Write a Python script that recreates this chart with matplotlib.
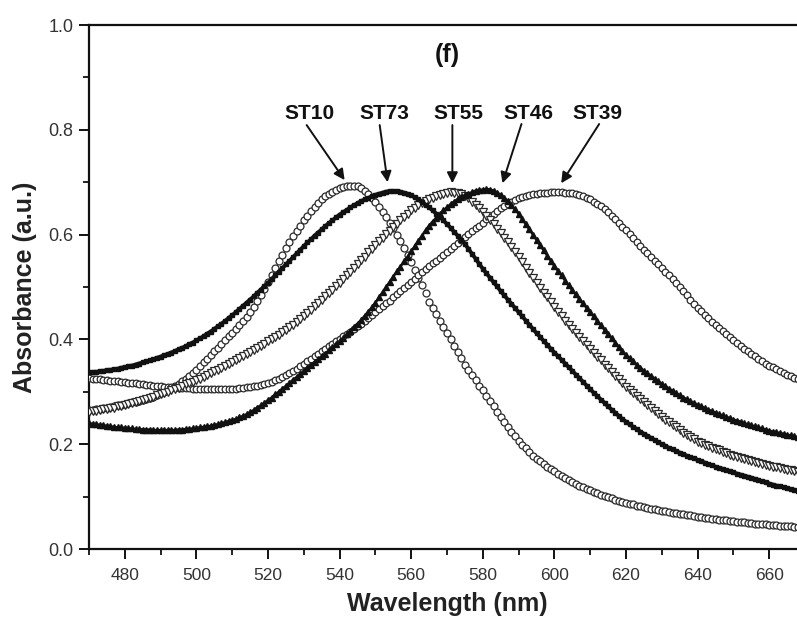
import matplotlib
matplotlib.use("Agg")
import matplotlib.pyplot as plt
from matplotlib.ticker import MultipleLocator

plt.rcParams['font.family'] = ['Liberation Sans', 'DejaVu Sans']

# wavelength grid (nm), one sample per nm
wavelength = list(range(470, 671))

st10 = [
    .265, .266, .267, .268, .269, .270, .271, .272, .274, .275,
    .277, .278, .280, .281, .283, .285, .287, .289, .291, .294,
    .297, .300, .303, .307, .311, .315, .320, .325, .330, .336,
    .342, .349, .356, .363, .370, .377, .384, .391, .398, .406,
    .413, .420, .427, .435, .443, .452, .462, .473, .485, .497,
    .510, .523, .536, .549, .562, .575, .586, .597, .607, .617,
    .627, .636, .645, .653, .660, .667, .673, .678, .682, .685,
    .688, .690, .692, .693, .693, .692, .689, .684, .678, .670,
    .662, .653, .643, .633, .623, .612, .600, .588, .575, .562,
    .548, .533, .518, .503, .488, .472, .460, .448, .436, .424,
    .412, .400, .388, .376, .364, .352, .342, .332, .322, .312,
    .303, .292, .282, .272, .262, .252, .243, .233, .224, .215,
    .206, .199, .192, .185, .178, .172, .167, .162, .157, .152,
    .148, .144, .140, .136, .132, .128, .125, .121, .118, .115,
    .112, .109, .106, .104, .101, .099, .097, .094, .092, .090,
    .088, .086, .085, .083, .082, .080, .079, .077, .076, .074,
    .073, .072, .071, .069, .068, .067, .066, .065, .064, .063,
    .062, .061, .060, .059, .058, .057, .056, .055, .055, .054,
    .053, .052, .051, .051, .050, .049, .048, .048, .047, .047,
    .046, .045, .045, .044, .044, .043, .043, .042, .042, .041,
    .041]

st73 = [
    .337, .338, .338, .339, .340, .341, .342, .343, .344, .346,
    .347, .349, .350, .352, .354, .356, .358, .360, .362, .365,
    .367, .370, .372, .375, .378, .381, .384, .387, .391, .394,
    .398, .402, .406, .411, .415, .420, .425, .430, .435, .441,
    .446, .452, .458, .464, .470, .476, .482, .489, .495, .502,
    .508, .515, .522, .529, .536, .543, .550, .557, .564, .571,
    .578, .585, .591, .598, .604, .610, .616, .622, .627, .633,
    .638, .643, .647, .652, .656, .660, .664, .667, .670, .673,
    .676, .678, .680, .682, .683, .683, .683, .682, .680, .678,
    .675, .671, .667, .662, .657, .652, .646, .640, .634, .627,
    .620, .613, .605, .598, .590, .582, .573, .563, .554, .544,
    .535, .526, .518, .509, .501, .492, .484, .476, .468, .460,
    .452, .444, .436, .428, .420, .412, .405, .397, .390, .382,
    .375, .368, .361, .354, .347, .340, .333, .326, .319, .312,
    .305, .298, .292, .285, .279, .272, .266, .260, .254, .248,
    .243, .238, .233, .229, .224, .220, .216, .212, .208, .204,
    .200, .197, .193, .190, .187, .184, .181, .178, .175, .173,
    .170, .167, .165, .162, .160, .157, .155, .153, .150, .148,
    .146, .144, .142, .140, .138, .136, .134, .132, .129, .127,
    .125, .123, .121, .120, .118, .116, .114, .113, .111, .110,
    .108]

st55 = [
    .262, .263, .264, .265, .267, .268, .269, .270, .272, .273,
    .275, .277, .278, .280, .282, .284, .286, .288, .290, .293,
    .295, .298, .300, .303, .305, .308, .311, .314, .316, .319,
    .322, .325, .329, .332, .336, .339, .342, .346, .349, .353,
    .356, .360, .364, .368, .372, .376, .380, .384, .388, .392,
    .396, .400, .405, .409, .414, .418, .423, .428, .434, .439,
    .445, .451, .457, .463, .470, .476, .482, .489, .495, .502,
    .508, .515, .522, .529, .537, .544, .551, .558, .566, .573,
    .580, .587, .594, .601, .607, .614, .621, .627, .634, .640,
    .646, .651, .656, .660, .664, .667, .670, .673, .676, .678,
    .680, .681, .680, .679, .677, .674, .669, .663, .657, .650,
    .643, .636, .628, .620, .611, .603, .594, .585, .576, .566,
    .557, .547, .537, .527, .518, .508, .499, .489, .480, .471,
    .462, .453, .445, .436, .428, .420, .412, .405, .397, .390,
    .382, .375, .367, .360, .352, .345, .338, .331, .324, .317,
    .310, .304, .298, .292, .286, .280, .274, .269, .263, .258,
    .252, .247, .242, .237, .232, .227, .222, .218, .213, .209,
    .205, .202, .199, .196, .193, .190, .188, .185, .183, .180,
    .178, .176, .174, .172, .170, .168, .166, .164, .162, .161,
    .159, .157, .156, .154, .153, .151, .150, .149, .147, .146,
    .145]

st46 = [
    .240, .239, .238, .237, .236, .235, .234, .233, .232, .232,
    .231, .230, .230, .229, .229, .228, .228, .228, .227, .227,
    .227, .227, .227, .227, .227, .228, .228, .229, .229, .230,
    .231, .232, .233, .234, .235, .237, .238, .240, .242, .244,
    .246, .248, .251, .254, .257, .261, .265, .270, .274, .279,
    .284, .289, .295, .300, .306, .311, .317, .323, .328, .334,
    .340, .346, .351, .357, .362, .368, .373, .379, .385, .391,
    .397, .403, .410, .416, .423, .430, .437, .445, .453, .461,
    .470, .480, .490, .500, .510, .520, .530, .539, .549, .558,
    .568, .578, .588, .598, .608, .617, .625, .632, .639, .646,
    .652, .658, .663, .668, .672, .675, .678, .681, .684, .685,
    .686, .687, .686, .684, .680, .676, .670, .664, .656, .648,
    .640, .630, .620, .610, .600, .590, .580, .570, .560, .550,
    .540, .531, .522, .512, .503, .494, .486, .477, .469, .460,
    .452, .444, .435, .427, .418, .410, .402, .394, .386, .378,
    .370, .364, .358, .352, .346, .340, .335, .330, .325, .320,
    .315, .311, .306, .302, .297, .293, .289, .286, .282, .279,
    .275, .272, .269, .266, .263, .260, .257, .255, .252, .250,
    .247, .245, .243, .240, .238, .236, .234, .232, .230, .228,
    .226, .224, .223, .221, .220, .218, .217, .215, .214, .212,
    .211]

st39 = [
    .326, .325, .324, .324, .323, .322, .321, .320, .320, .319,
    .318, .317, .316, .316, .315, .314, .313, .313, .312, .311,
    .311, .310, .310, .309, .309, .308, .308, .307, .307, .306,
    .306, .306, .305, .305, .305, .305, .305, .305, .305, .306,
    .306, .306, .307, .308, .309, .310, .311, .312, .313, .315,
    .317, .319, .322, .325, .328, .332, .336, .340, .344, .349,
    .353, .358, .363, .368, .372, .377, .382, .387, .391, .396,
    .401, .406, .410, .415, .420, .425, .430, .436, .441, .447,
    .452, .458, .463, .469, .474, .480, .486, .492, .498, .504,
    .510, .516, .522, .528, .534, .540, .545, .550, .555, .561,
    .566, .572, .578, .584, .589, .595, .601, .606, .612, .617,
    .623, .629, .634, .640, .645, .650, .655, .659, .663, .666,
    .669, .671, .674, .676, .677, .678, .679, .680, .680, .681,
    .681, .681, .681, .680, .680, .679, .677, .675, .673, .670,
    .667, .663, .658, .654, .649, .643, .636, .629, .622, .615,
    .608, .601, .593, .586, .578, .571, .564, .557, .550, .543,
    .536, .529, .522, .515, .507, .500, .492, .484, .476, .468,
    .460, .454, .447, .441, .434, .428, .422, .416, .410, .404,
    .398, .393, .388, .382, .377, .372, .368, .363, .359, .354,
    .350, .347, .343, .340, .336, .333, .330, .327, .324, .321,
    .318]

labels = ["ST10", "ST73", "ST55", "ST46", "ST39"]
# label text position (wavelength, absorbance), arrow tail, arrow head
label_pos = [(531.6, 0.832), (552.6, 0.832), (573.2, 0.832), (592.7, 0.832), (612.0, 0.832)]
arrow_tail = [(530.8, 0.809), (551.2, 0.809), (571.5, 0.809), (590.8, 0.811), (612.5, 0.811)]
arrow_head = [(541.4, 0.704), (553.4, 0.700), (571.5, 0.698), (585.5, 0.698), (601.9, 0.698)]

xticks = [480, 500, 520, 540, 560, 580, 600, 620, 640, 660]
yticks = [0.0, 0.2, 0.4, 0.6, 0.8, 1.0]

fig = plt.figure(figsize=(7.97, 6.21), dpi=100)
ax = fig.add_axes([89/797, 72/621, 716/797, 524/621])

edge = '#2a2a2a'
ax.plot(wavelength, st10, linestyle='none', marker='o', markersize=5.0,
        markerfacecolor='white', markeredgecolor=edge, markeredgewidth=0.9, zorder=3)
ax.plot(wavelength, st39, linestyle='none', marker='o', markersize=4.8,
        markerfacecolor='white', markeredgecolor=edge, markeredgewidth=0.9, zorder=3)
ax.plot(wavelength, st55, linestyle='none', marker='v', markersize=5.2,
        markerfacecolor='white', markeredgecolor=edge, markeredgewidth=0.9, zorder=3)
ax.plot(wavelength, st73, linestyle='-', color='#111111', linewidth=2.8,
        marker='s', markersize=3.4, markerfacecolor='#111111',
        markeredgecolor='#111111', zorder=4)
ax.plot(wavelength, st46, linestyle='-', color='#111111', linewidth=1.8,
        marker='^', markersize=4.6, markerfacecolor='#111111',
        markeredgecolor='#111111', zorder=4)

for lab, pos, tail, head in zip(labels, label_pos, arrow_tail, arrow_head):
    ax.text(pos[0], pos[1], lab, ha='center', va='center', fontsize=15,
            fontweight='bold', color='#111111')
    ax.annotate('', xy=head, xytext=tail,
                arrowprops=dict(arrowstyle='-|>', color='#111111', lw=1.4,
                                mutation_scale=16, shrinkA=0, shrinkB=0))

ax.text(570.1, 0.943, '(f)', ha='center', va='center', fontsize=18,
        fontweight='bold', color='#111111')

ax.set_xlim(470, 670)
ax.set_ylim(0.0, 1.0)
ax.set_xticks(xticks)
ax.set_yticks(yticks)
ax.set_yticklabels([f"{v:.1f}" for v in yticks])
ax.xaxis.set_minor_locator(MultipleLocator(10))
ax.yaxis.set_minor_locator(MultipleLocator(0.1))

for s in ax.spines.values():
    s.set_linewidth(1.6)
    s.set_color('#111111')

ax.tick_params(axis='both', which='major', direction='out', length=7,
               width=1.4, color='#111111', labelcolor='#333333')
ax.tick_params(axis='both', which='minor', direction='out', length=4,
               width=1.3, color='#111111')
ax.tick_params(axis='x', which='major', labelsize=12.5, pad=7)
ax.tick_params(axis='y', which='major', labelsize=13, pad=4)

ax.set_xlabel('Wavelength (nm)', fontsize=18, fontweight='bold', color='#222222', labelpad=6)
ax.set_ylabel('Absorbance (a.u.)', fontsize=18, fontweight='bold', color='#222222', labelpad=8)

fig.savefig('out.png', dpi=100)
